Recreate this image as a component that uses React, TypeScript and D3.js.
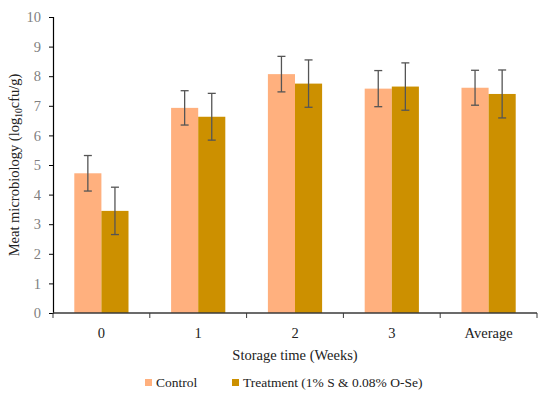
import { useEffect, useRef } from "react";
import * as d3 from "d3";

const categories = ["0", "1", "2", "3", "Average"];
const controlMeans = [4.72, 6.93, 8.07, 7.58, 7.61];
const controlErr = [0.6, 0.58, 0.6, 0.61, 0.59];
const treatmentMeans = [3.45, 6.63, 7.75, 7.65, 7.4];
const treatmentErr = [0.8, 0.79, 0.8, 0.8, 0.81];
const yTicks = [0, 1, 2, 3, 4, 5, 6, 7, 8, 9, 10];

const series = [
  { name: "Control", means: controlMeans, err: controlErr, color: "#FFB07E" },
  { name: "Treatment (1% S & 0.08% O-Se)", means: treatmentMeans, err: treatmentErr, color: "#CC9000" },
];

export default function App() {
  const ref = useRef<SVGSVGElement>(null);

  useEffect(() => {
    const W = 550, H = 396;
    const margin = { top: 17, right: 13, bottom: 83, left: 53 };
    const width = W - margin.left - margin.right;
    const height = H - margin.top - margin.bottom;
    const font = "'Liberation Serif', 'Times New Roman', serif";
    const fs = 14.5;

    const root = d3.select(ref.current);
    root.selectAll("*").remove();

    const svg = root.append("g").attr("transform", `translate(${margin.left},${margin.top})`);

    const x = d3.scaleBand().domain(categories).range([0, width]).paddingInner(0).paddingOuter(0);
    const y = d3.scaleLinear().domain([0, 10]).range([height, 0]);

    const groupPad = 0.22;
    const inner = d3.scaleBand()
      .domain(series.map(s => s.name))
      .range([x.bandwidth() * groupPad, x.bandwidth() * (1 - groupPad)]);

    series.forEach(s => {
      const g = svg.append("g");
      g.selectAll("rect")
        .data(categories)
        .enter()
        .append("rect")
        .attr("x", c => x(c)! + inner(s.name)!)
        .attr("y", (_, i) => y(s.means[i]))
        .attr("width", inner.bandwidth())
        .attr("height", (_, i) => height - y(s.means[i]))
        .attr("fill", s.color);
    });

    // error bars
    series.forEach(s => {
      categories.forEach((c, i) => {
        const cx = x(c)! + inner(s.name)! + inner.bandwidth() / 2;
        const top = y(s.means[i] + s.err[i]);
        const bot = y(s.means[i] - s.err[i]);
        const e = svg.append("g").attr("stroke", "#555").attr("stroke-width", 1.3);
        e.append("line").attr("x1", cx).attr("x2", cx).attr("y1", top).attr("y2", bot);
        e.append("line").attr("x1", cx - 4).attr("x2", cx + 4).attr("y1", top).attr("y2", top);
        e.append("line").attr("x1", cx - 4).attr("x2", cx + 4).attr("y1", bot).attr("y2", bot);
      });
    });

    // y axis
    const yAxis = svg.append("g")
      .call(d3.axisLeft(y).tickValues(yTicks).tickSize(4).tickPadding(8).tickFormat(d3.format("d")));
    yAxis.select(".domain").attr("stroke", "#000").attr("stroke-width", 1.2);
    yAxis.selectAll(".tick line").attr("stroke", "#000");
    yAxis.selectAll(".tick text")
      .attr("font-family", font)
      .attr("font-size", fs)
      .attr("fill", "#7f7f7f");

    // x axis
    const xAxis = svg.append("g").attr("transform", `translate(0,${height})`);
    xAxis.append("line")
      .attr("x1", 0).attr("x2", width)
      .attr("stroke", "#3a3a3a").attr("stroke-width", 1.5);
    const bounds = categories.map(c => x(c)!).concat([width]);
    xAxis.selectAll(".bt")
      .data(bounds)
      .enter()
      .append("line")
      .attr("x1", d => d).attr("x2", d => d)
      .attr("y1", 0).attr("y2", 5)
      .attr("stroke", "#3a3a3a");
    xAxis.selectAll("text")
      .data(categories)
      .enter()
      .append("text")
      .attr("x", c => x(c)! + x.bandwidth() / 2)
      .attr("y", 25)
      .attr("text-anchor", "middle")
      .attr("font-family", font)
      .attr("font-size", fs)
      .attr("fill", "#222")
      .text(c => c);

    svg.append("text")
      .attr("x", width / 2)
      .attr("y", height + 47)
      .attr("text-anchor", "middle")
      .attr("font-family", font)
      .attr("font-size", fs)
      .attr("fill", "#222")
      .text("Storage time (Weeks)");

    svg.append("text")
      .attr("transform", `translate(${-34},${height / 2}) rotate(-90)`)
      .attr("text-anchor", "middle")
      .attr("font-family", font)
      .attr("font-size", fs)
      .attr("fill", "#222")
      .text("Meat microbiology (log")
      .call(t => {
        t.append("tspan").attr("font-size", 9.5).attr("dy", 3).text("10");
        t.append("tspan").attr("dy", -3).text("cfu/g)");
      });

    // legend
    const legend = root.append("g").attr("transform", `translate(0, 387)`);
    const legendX = [145, 232];
    series.forEach((s, i) => {
      legend.append("rect")
        .attr("x", legendX[i]).attr("y", -8)
        .attr("width", 7).attr("height", 7)
        .attr("fill", s.color);
      legend.append("text")
        .attr("x", legendX[i] + 11)
        .attr("y", 0)
        .attr("font-family", font)
        .attr("font-size", 13.5)
        .attr("fill", "#222")
        .text(s.name);
    });
  }, []);

  return (
    <svg
      ref={ref}
      width={550}
      height={396}
      style={{ position: "absolute", left: 0, top: 0, background: "#fff" }}
    />
  );
}
